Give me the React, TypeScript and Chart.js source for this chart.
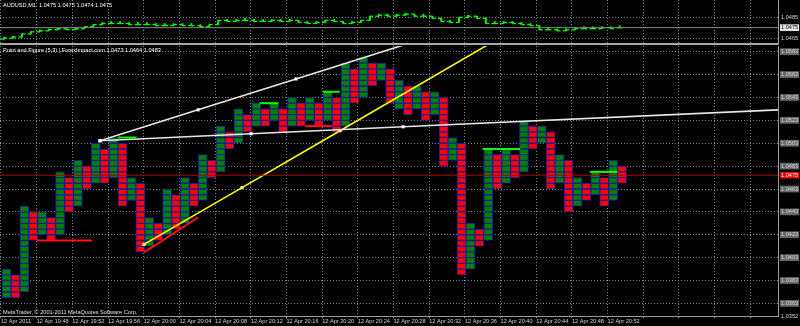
import React, { useEffect, useRef } from 'react';
import { Chart, registerables } from 'chart.js';

Chart.register(...registerables);

// ---------- time axis (minutes since 19:44) ----------
const xMin = -0.112;
const xMax = 87.1;
const timeTickValues = [0, 4, 8, 12, 16, 20, 24, 28, 32, 36, 40, 44, 48, 52, 56, 60, 64, 68, 72, 76, 80, 84];
const timeTickLabels = [
  '12 Apr 2011', '12 Apr 19:48', '12 Apr 19:52', '12 Apr 19:56', '12 Apr 20:00', '12 Apr 20:04',
  '12 Apr 20:08', '12 Apr 20:12', '12 Apr 20:16', '12 Apr 20:20', '12 Apr 20:24', '12 Apr 20:28',
  '12 Apr 20:32', '12 Apr 20:36', '12 Apr 20:40', '12 Apr 20:44', '12 Apr 20:48', '12 Apr 20:52',
];

// ---------- Point & Figure columns (box 0.0005) ----------
const boxSize = 0.0005;
const columnKinds = 'XOXOXOXOXOXOXOXOXOXOXOXOXOXOXOXOXOXOXOXOXOXOXOXOXOXOXOXOXOXOXOXOXOXOXO';
const columnLows = [
  1.0368, 1.0368, 1.0373, 1.0418, 1.0423, 1.0418, 1.0423, 1.0443, 1.0448, 1.0463,
  1.0468, 1.0468, 1.0473, 1.0448, 1.0453, 1.0408, 1.0413, 1.0418, 1.0423, 1.0428,
  1.0433, 1.0448, 1.0453, 1.0473, 1.0478, 1.0498, 1.0503, 1.0513, 1.0518, 1.0518,
  1.0523, 1.0513, 1.0518, 1.0518, 1.0523, 1.0518, 1.0523, 1.0513, 1.0518, 1.0538,
  1.0543, 1.0553, 1.0558, 1.0538, 1.0533, 1.0528, 1.0533, 1.0523, 1.0528, 1.0483,
  1.0488, 1.0388, 1.0393, 1.0413, 1.0418, 1.0463, 1.0468, 1.0473, 1.0478, 1.0498,
  1.0503, 1.0463, 1.0468, 1.0443, 1.0448, 1.0453, 1.0458, 1.0448, 1.0453, 1.0468,
];
const columnHighs = [
  1.0393, 1.0388, 1.0448, 1.0443, 1.0443, 1.0438, 1.0478, 1.0473, 1.0488, 1.0483,
  1.0503, 1.0498, 1.0508, 1.0503, 1.0473, 1.0468, 1.0438, 1.0433, 1.0463, 1.0458,
  1.0473, 1.0468, 1.0493, 1.0488, 1.0518, 1.0513, 1.0533, 1.0528, 1.0538, 1.0533,
  1.0538, 1.0533, 1.0543, 1.0538, 1.0543, 1.0538, 1.0548, 1.0543, 1.0573, 1.0568,
  1.0578, 1.0573, 1.0573, 1.0568, 1.0558, 1.0553, 1.0553, 1.0548, 1.0548, 1.0543,
  1.0508, 1.0503, 1.0433, 1.0428, 1.0498, 1.0493, 1.0498, 1.0493, 1.0523, 1.0518,
  1.0518, 1.0513, 1.0493, 1.0488, 1.0473, 1.0468, 1.0478, 1.0473, 1.0488, 1.0483,
];

// ---------- M1 price bars (top pane) ----------
const barOpens = [
  1.0464, 1.0465, 1.0466, 1.0469, 1.0471, 1.0472, 1.0473, 1.0474, 1.0473, 1.0474,
  1.0476, 1.0478, 1.0479, 1.0479, 1.0479, 1.0478, 1.0478, 1.0478, 1.0477, 1.0477,
  1.0478, 1.0477, 1.0477, 1.0476, 1.0478, 1.0482, 1.0481, 1.0482, 1.0482, 1.0481,
  1.0481, 1.0482, 1.0481, 1.0482, 1.0480, 1.0479, 1.0480, 1.0482, 1.0481, 1.0479,
  1.0480, 1.0482, 1.0486, 1.0487, 1.0486, 1.0487, 1.0488, 1.0486, 1.0486, 1.0484,
  1.0481, 1.0480, 1.0485, 1.0486, 1.0484, 1.0479, 1.0479, 1.0480, 1.0479, 1.0478,
  1.0477, 1.0473, 1.0473, 1.0472, 1.0473, 1.0474, 1.0474, 1.0474, 1.0475, 1.0475,
];
const barCloses = [
  1.0465, 1.0466, 1.0469, 1.0471, 1.0472, 1.0473, 1.0474, 1.0473, 1.0474, 1.0476,
  1.0478, 1.0479, 1.0479, 1.0479, 1.0478, 1.0478, 1.0478, 1.0477, 1.0477, 1.0478,
  1.0477, 1.0477, 1.0476, 1.0478, 1.0482, 1.0481, 1.0482, 1.0482, 1.0481, 1.0481,
  1.0482, 1.0481, 1.0482, 1.0480, 1.0479, 1.0480, 1.0482, 1.0481, 1.0479, 1.0480,
  1.0482, 1.0486, 1.0487, 1.0486, 1.0487, 1.0488, 1.0486, 1.0486, 1.0484, 1.0481,
  1.0480, 1.0485, 1.0486, 1.0484, 1.0479, 1.0479, 1.0480, 1.0479, 1.0478, 1.0477,
  1.0473, 1.0473, 1.0472, 1.0473, 1.0474, 1.0474, 1.0474, 1.0475, 1.0474, 1.0475,
];

// ---------- price axes ----------
const paneMin = 1.0352;
const paneMax = 1.0588;
const priceTicks = [1.0583, 1.0563, 1.0543, 1.0523, 1.0503, 1.0483, 1.0463, 1.0443, 1.0423, 1.0403, 1.0383, 1.0363];
const priceTickLabels = ['1.0583', '1.0563', '1.0543', '1.0523', '1.0503', '1.0483', '1.0463', '1.0443', '1.0423', '1.0403', '1.0383', '1.0363'];
const currentBid = 1.0475;
const topMin = 1.04593;
const topMax = 1.05016;
const topPriceTicks = [1.0485, 1.0475, 1.0465];
const topPriceLabels = ['1.0485', '1.0475', '1.0465'];

// ---------- drawn objects (t = minutes since 19:44, p = price) ----------
const whiteUpperTrend = [{ t: 11.1, p: 1.05052 }, { t: 22.09, p: 1.05322 }, { t: 33.07, p: 1.05592 }, { t: 46.0, p: 1.0591 }];
const whiteLowerTrend = [{ t: 11.1, p: 1.05052 }, { t: 28.03, p: 1.05113 }, { t: 45.07, p: 1.05174 }, { t: 87.1, p: 1.05322 }];
const yellowTrend = [{ t: 16.03, p: 1.04146 }, { t: 27.02, p: 1.04642 }, { t: 38.0, p: 1.05139 }, { t: 55.0, p: 1.0591 }];
const redSlopeLine = [{ t: 16.03, p: 1.04076 }, { t: 22.09, p: 1.04381 }];
const redSupport1 = [{ t: 4.04, p: 1.0418 }, { t: 10.2, p: 1.0418 }];
const redSupport2 = [{ t: 34.1, p: 1.0518 }, { t: 37.1, p: 1.0518 }];
const limeMarks = [
  [{ t: 13.1, p: 1.0508 }, { t: 15.2, p: 1.0508 }],
  [{ t: 29.0, p: 1.0538 }, { t: 31.1, p: 1.0538 }],
  [{ t: 36.1, p: 1.0548 }, { t: 38.0, p: 1.0548 }],
  [{ t: 54.0, p: 1.0498 }, { t: 58.2, p: 1.0498 }],
  [{ t: 66.0, p: 1.0478 }, { t: 69.1, p: 1.0478 }],
];

const gridColor = '#778899';
const axisColor = '#9a9a9a';
const fontFamily = "'Liberation Sans', Arial, sans-serif";
const fontSize = 5.6;

function boxes(kind: string) {
  const out: any[] = [];
  for (let k = 0; k < columnLows.length; k++) {
    if (columnKinds[k] !== kind) continue;
    const n = Math.round((columnHighs[k] - columnLows[k]) / boxSize);
    for (let j = 0; j < n; j++) {
      const lo = columnLows[k] + j * boxSize;
      out.push({ x: k + 0.62, y: [lo, lo + boxSize] });
    }
  }
  return out;
}

function lineDs(pts: any[], color: string, width: number, dots: number[] = [], dotColor = '#ffffff') {
  return {
    type: 'line',
    data: pts.map((q) => ({ x: q.t, y: q.p })),
    borderColor: color,
    backgroundColor: color,
    borderWidth: width,
    pointRadius: pts.map((_, i) => (dots.includes(i) ? 2.2 : 0)),
    pointStyle: 'rect',
    pointBackgroundColor: dotColor,
    pointBorderWidth: 0,
    tension: 0,
    fill: false,
    order: 0,
  };
}

function xScale(showLabels: boolean) {
  return {
    type: 'linear',
    min: xMin,
    max: xMax,
    offset: false,
    bounds: 'data',
    position: 'bottom',
    afterBuildTicks: (s: any) => {
      s.ticks = timeTickValues.map((v) => ({ value: v }));
    },
    afterFit: (s: any) => {
      s.height = showLabels ? 10 : 2;
      s.paddingLeft = 0;
      s.paddingRight = 0;
    },
    grid: {
      offset: false,
      color: gridColor,
      lineWidth: 1,
      drawTicks: showLabels,
      tickLength: 2,
      tickColor: axisColor,
    },
    border: { display: true, color: showLabels ? axisColor : '#a8a8a8', width: showLabels ? 1 : 2, dash: [1, 2] },
    ticks: {
      display: showLabels,
      autoSkip: false,
      maxRotation: 0,
      minRotation: 0,
      align: 'start',
      padding: 0,
      color: '#d4d4d4',
      font: { family: fontFamily, size: fontSize },
      callback: (_v: any, i: number) => timeTickLabels[i] ?? '',
    },
  };
}

function bottomConfig(): any {
  const allTicks = [...priceTicks, currentBid, paneMin];
  const allLabels = [...priceTickLabels, '1.0475', '1.0352'];
  const nGrid = priceTicks.length;
  return {
    type: 'bar',
    data: {
      datasets: [
        {
          type: 'bar', label: 'X', data: boxes('X'), backgroundColor: '#008000', borderColor: '#1c1c9e',
          borderWidth: 1, borderSkipped: false, barThickness: 9, grouped: false, order: 10,
        },
        {
          type: 'bar', label: 'O', data: boxes('O'), backgroundColor: '#ff0000', borderColor: '#1c1c9e',
          borderWidth: 1, borderSkipped: false, barThickness: 9, grouped: false, order: 10,
        },
        lineDs([{ t: xMin, p: currentBid }, { t: xMax, p: currentBid }], '#b00000', 1),
        ...limeMarks.map((m) => lineDs(m, '#00ff00', 2)),
        lineDs(redSupport1, '#ff1010', 2),
        lineDs(redSupport2, '#ff1010', 2),
        lineDs(redSlopeLine, '#ff1010', 2),
        lineDs(whiteUpperTrend, '#e8e8e8', 1.6, [0, 1, 2]),
        lineDs(whiteLowerTrend, '#e8e8e8', 1.6, [0, 1, 2]),
        lineDs(yellowTrend, '#ffff00', 1.6, [0, 1, 2], '#ffff80'),
      ],
    },
    options: {
      animation: false,
      responsive: false,
      devicePixelRatio: 1,
      events: [],
      layout: { padding: 0, autoPadding: false },
      plugins: { legend: { display: false }, tooltip: { enabled: false }, title: { display: false } },
      scales: {
        x: xScale(true),
        y: {
          type: 'linear',
          position: 'right',
          min: paneMin,
          max: paneMax,
          bounds: 'data',
          afterBuildTicks: (s: any) => {
            s.ticks = allTicks.map((v) => ({ value: v }));
          },
          afterFit: (s: any) => {
            s.width = 22;
            s.paddingTop = 0;
            s.paddingBottom = 0;
          },
          grid: {
            color: (c: any) => (c.index < nGrid ? gridColor : 'rgba(0,0,0,0)'),
            drawTicks: false,
          },
          border: { display: true, color: axisColor, width: 1, dash: [1, 2] },
          ticks: {
            autoSkip: false,
            padding: 3,
            font: { family: fontFamily, size: fontSize },
            color: (c: any) => (c.index === nGrid ? '#ffffff' : '#d6d6d6'),
            showLabelBackdrop: true,
            backdropPadding: { top: 0, bottom: 0, left: 1, right: 1 },
            backdropColor: (c: any) =>
              c.index === nGrid ? '#e00000' : c.index > nGrid ? 'rgba(0,0,0,0)' : '#686868',
            callback: (_v: any, i: number) => allLabels[i] ?? '',
          },
        },
      },
    },
  };
}

function topConfig(): any {
  const tx = (i: number) => i + 0.35;
  return {
    type: 'bar',
    data: {
      datasets: [
        {
          type: 'bar',
          label: 'range',
          data: barOpens.map((o, i) => ({ x: tx(i), y: [Math.min(o, barCloses[i]), Math.max(o, barCloses[i])] })),
          backgroundColor: '#00ff00',
          borderWidth: 0,
          barThickness: 1.3,
          minBarLength: 2,
          grouped: false,
          order: 5,
        },
        {
          type: 'line',
          label: 'open',
          data: barOpens.map((o, i) => ({ x: tx(i) - 0.18, y: o })),
          showLine: false,
          pointStyle: 'line',
          pointRadius: 1.7,
          pointBorderColor: '#00ff00',
          pointBorderWidth: 1.3,
          order: 1,
        },
        {
          type: 'line',
          label: 'close',
          data: barCloses.map((c, i) => ({ x: tx(i) + 0.18, y: c })),
          showLine: false,
          pointStyle: 'line',
          pointRadius: 1.7,
          pointBorderColor: '#00ff00',
          pointBorderWidth: 1.3,
          order: 1,
        },
        lineDs([{ t: xMin, p: currentBid }, { t: xMax, p: currentBid }], '#8a8a8a', 1),
      ],
    },
    options: {
      animation: false,
      responsive: false,
      devicePixelRatio: 1,
      events: [],
      layout: { padding: 0, autoPadding: false },
      plugins: { legend: { display: false }, tooltip: { enabled: false } },
      scales: {
        x: xScale(false),
        y: {
          type: 'linear',
          position: 'right',
          min: topMin,
          max: topMax,
          bounds: 'data',
          afterBuildTicks: (s: any) => {
            s.ticks = topPriceTicks.map((v) => ({ value: v }));
          },
          afterFit: (s: any) => {
            s.width = 22;
            s.paddingTop = 0;
            s.paddingBottom = 0;
          },
          grid: {
            color: (c: any) => (c.index === 1 ? 'rgba(0,0,0,0)' : gridColor),
            drawTicks: false,
          },
          border: { display: true, color: axisColor, width: 1, dash: [1, 2] },
          ticks: {
            autoSkip: false,
            padding: 3,
            font: { family: fontFamily, size: fontSize },
            color: (c: any) => (c.index === 1 ? '#000000' : '#d6d6d6'),
            showLabelBackdrop: true,
            backdropPadding: { top: 0, bottom: 0, left: 1, right: 1 },
            backdropColor: (c: any) => (c.index === 1 ? '#e6e6e6' : 'rgba(0,0,0,0)'),
            callback: (_v: any, i: number) => topPriceLabels[i] ?? '',
          },
        },
      },
    },
  };
}

const textStyle: React.CSSProperties = {
  position: 'absolute',
  left: 3,
  fontFamily: fontFamily,
  fontSize: 5.6,
  lineHeight: 1,
  color: '#ffffff',
  whiteSpace: 'pre',
  pointerEvents: 'none',
};

export default function App() {
  const topRef = useRef<HTMLCanvasElement>(null);
  const botRef = useRef<HTMLCanvasElement>(null);

  useEffect(() => {
    document.body.style.margin = '0';
    document.body.style.background = '#000';
    const top = new Chart(topRef.current as HTMLCanvasElement, topConfig());
    const bot = new Chart(botRef.current as HTMLCanvasElement, bottomConfig());
    return () => {
      top.destroy();
      bot.destroy();
    };
  }, []);

  return (
    <div style={{ position: 'fixed', left: 0, top: 0, width: 800, height: 326, background: '#000', overflow: 'hidden' }}>
      <canvas ref={topRef} width={800} height={46} style={{ position: 'absolute', left: 0, top: 0, width: 800, height: 46 }} />
      <canvas ref={botRef} width={800} height={280} style={{ position: 'absolute', left: 0, top: 46, width: 800, height: 280 }} />
      <div style={{ ...textStyle, top: 3 }}>AUDUSD,M1  1.0475 1.0475 1.0474 1.0475</div>
      <div style={{ ...textStyle, top: 48 }}>Point and Figure (5,3) | ForexImpact.com 1.0473 1.0464 1.0483</div>
      <div style={{ ...textStyle, top: 310, color: '#e0e0e0' }}>MetaTrader, © 2001-2011 MetaQuotes Software Corp.</div>
    </div>
  );
}
